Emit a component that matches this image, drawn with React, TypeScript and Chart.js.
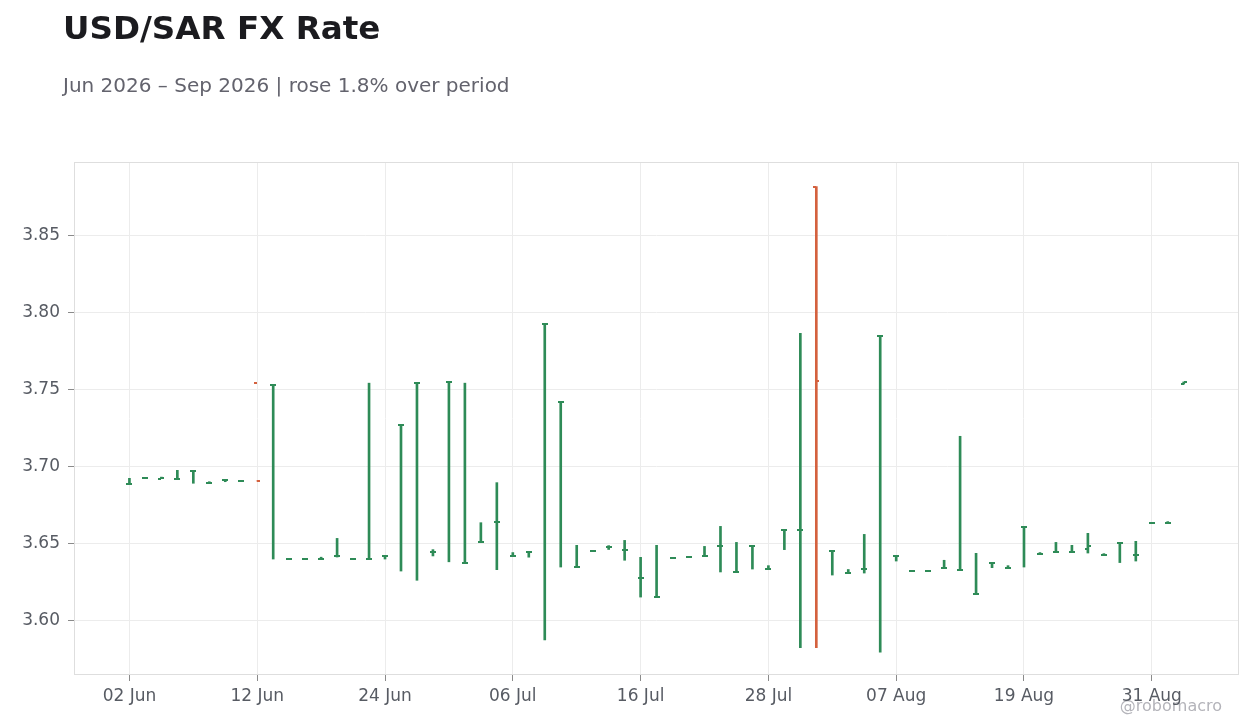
import { useEffect, useRef } from 'react';
import { Chart, registerables } from 'chart.js';

Chart.register(...registerables);

// business days, Jun 2 – Sep 2 2026
const dates = [
  '02 Jun', '03 Jun', '04 Jun', '05 Jun', '08 Jun', '09 Jun', '10 Jun', '11 Jun', '12 Jun',
  '15 Jun', '16 Jun', '17 Jun', '18 Jun', '19 Jun', '22 Jun', '23 Jun', '24 Jun', '25 Jun', '26 Jun',
  '29 Jun', '30 Jun', '01 Jul', '02 Jul', '03 Jul', '06 Jul', '07 Jul', '08 Jul', '09 Jul', '10 Jul',
  '13 Jul', '14 Jul', '15 Jul', '16 Jul', '17 Jul', '20 Jul', '21 Jul', '22 Jul', '23 Jul', '24 Jul',
  '27 Jul', '28 Jul', '29 Jul', '30 Jul', '31 Jul', '03 Aug', '04 Aug', '05 Aug', '06 Aug', '07 Aug',
  '10 Aug', '11 Aug', '12 Aug', '13 Aug', '14 Aug', '17 Aug', '18 Aug', '19 Aug', '20 Aug', '21 Aug',
  '24 Aug', '25 Aug', '26 Aug', '27 Aug', '28 Aug', '31 Aug', '01 Sep', '02 Sep',
];

const opens = [
  3.6883, 3.6924, 3.6920, 3.6920, 3.6970, 3.6890, 3.6910, 3.6905, 3.7540,
  3.7528, 3.6400, 3.6400, 3.6396, 3.6415, 3.6396, 3.6396, 3.6418, 3.7270, 3.7540,
  3.6442, 3.7550, 3.6370, 3.6506, 3.6638, 3.6416, 3.6446, 3.7924, 3.7420, 3.6346,
  3.6450, 3.6476, 3.6456, 3.6275, 3.6150, 3.6405, 3.6411, 3.6416, 3.6480, 3.6314,
  3.6480, 3.6333, 3.6586, 3.6586, 3.8816, 3.6450, 3.6307, 3.6333, 3.7846, 3.6418,
  3.6320, 3.6320, 3.6340, 3.6327, 3.6170, 3.6372, 3.6340, 3.6606, 3.6431, 3.6442,
  3.6442, 3.6463, 3.6424, 3.6502, 3.6424, 3.6632, 3.6632, 3.7534,
];
const highs = [
  3.6922, 3.6924, 3.6930, 3.6974, 3.6970, 3.6900, 3.6910, 3.6905, 3.6905,
  3.7528, 3.6400, 3.6400, 3.6410, 3.6532, 3.6396, 3.7540, 3.6418, 3.7270, 3.7540,
  3.6459, 3.7550, 3.7540, 3.6634, 3.6894, 3.6440, 3.6446, 3.7924, 3.7420, 3.6487,
  3.6450, 3.6485, 3.6519, 3.6409, 3.6487, 3.6405, 3.6411, 3.6480, 3.6610, 3.6506,
  3.6480, 3.6355, 3.6586, 3.7864, 3.8816, 3.6450, 3.6330, 3.6558, 3.7846, 3.6418,
  3.6320, 3.6320, 3.6390, 3.7195, 3.6435, 3.6372, 3.6355, 3.6606, 3.6440, 3.6506,
  3.6487, 3.6565, 3.6433, 3.6502, 3.6513, 3.6632, 3.6641, 3.7548,
];
const lows = [
  3.6883, 3.6924, 3.6920, 3.6914, 3.6890, 3.6890, 3.6900, 3.6905, 3.6905,
  3.6398, 3.6400, 3.6400, 3.6396, 3.6411, 3.6396, 3.6396, 3.6398, 3.6320, 3.6260,
  3.6418, 3.6380, 3.6370, 3.6506, 3.6329, 3.6416, 3.6410, 3.5872, 3.6346, 3.6346,
  3.6450, 3.6460, 3.6390, 3.6151, 3.6150, 3.6405, 3.6411, 3.6416, 3.6314, 3.6314,
  3.6333, 3.6333, 3.6459, 3.5823, 3.5823, 3.6294, 3.6307, 3.6307, 3.5794, 3.6385,
  3.6320, 3.6320, 3.6340, 3.6327, 3.6170, 3.6342, 3.6340, 3.6346, 3.6431, 3.6442,
  3.6442, 3.6437, 3.6424, 3.6375, 3.6385, 3.6632, 3.6632, 3.7534,
];
const closes = [
  3.6885, 3.6924, 3.6922, 3.6920, 3.6970, 3.6890, 3.6910, 3.6905, 3.6905,
  3.7528, 3.6400, 3.6400, 3.6396, 3.6415, 3.6396, 3.6396, 3.6418, 3.7270, 3.7540,
  3.6442, 3.7550, 3.6370, 3.6506, 3.6638, 3.6416, 3.6446, 3.7924, 3.7420, 3.6346,
  3.6450, 3.6476, 3.6456, 3.6275, 3.6150, 3.6405, 3.6411, 3.6416, 3.6480, 3.6314,
  3.6480, 3.6333, 3.6586, 3.6586, 3.7556, 3.6450, 3.6307, 3.6333, 3.7846, 3.6418,
  3.6320, 3.6320, 3.6340, 3.6327, 3.6170, 3.6372, 3.6340, 3.6606, 3.6431, 3.6442,
  3.6442, 3.6483, 3.6424, 3.6502, 3.6424, 3.6632, 3.6632, 3.7548,
];

const xTickIdx = [0, 8, 16, 24, 32, 40, 48, 56, 64];
const yTicks = [3.6, 3.65, 3.7, 3.75, 3.8, 3.85];

const UP = '#2e8b57';
const DOWN = '#d4613e';
const FONT = '"DejaVu Sans", sans-serif';

const colorAt = (i: number) => (closes[i] >= opens[i] ? UP : DOWN);

// open / close ticks, frame and watermark
const ohlcPlugin = {
  id: 'ohlcTicks',
  beforeDraw(chart: any) {
    const { ctx } = chart;
    ctx.save();
    ctx.font = `16px ${FONT}`;
    ctx.fillStyle = '#b4b4ba';
    ctx.textAlign = 'right';
    ctx.textBaseline = 'alphabetic';
    ctx.fillText('@robomacro', 1222, 711);
    ctx.restore();
  },
  beforeDatasetsDraw(chart: any) {
    const { ctx, chartArea: a } = chart;
    ctx.save();
    ctx.strokeStyle = '#dedede';
    ctx.lineWidth = 1;
    ctx.strokeRect(a.left + 0.5, a.top + 0.5, a.right - a.left - 1, a.bottom - a.top - 1);
    ctx.restore();
  },
  afterDatasetsDraw(chart: any) {
    const { ctx } = chart;
    const xs = chart.scales.x;
    const ys = chart.scales.y;
    ctx.save();
    opens.forEach((o, i) => {
      const px = Math.round(xs.getPixelForValue(i));
      ctx.fillStyle = colorAt(i);
      ctx.fillRect(px - 3, Math.round(ys.getPixelForValue(o)) - 1, 3, 2);
      ctx.fillRect(px, Math.round(ys.getPixelForValue(closes[i])) - 1, 3, 2);
    });
    ctx.restore();
  },
};

const App = () => {
  const canvasRef = useRef<HTMLCanvasElement>(null);

  useEffect(() => {
    if (!canvasRef.current) return;
    const chart = new Chart(canvasRef.current, {
      type: 'bar',
      data: {
        datasets: [
          {
            label: 'USD/SAR',
            data: dates.map((_, i) => ({ x: i, y: [lows[i], highs[i]] })) as any,
            backgroundColor: dates.map((_, i) => colorAt(i)),
            borderWidth: 0,
            barThickness: 2,
            grouped: false,
          },
        ],
      },
      options: {
        responsive: false,
        animation: false,
        devicePixelRatio: 1,
        layout: { padding: { left: 0, right: 21, top: 162, bottom: 0 } },
        plugins: {
          legend: { display: false },
          tooltip: { enabled: false },
        },
        scales: {
          x: {
            type: 'linear',
            offset: false,
            min: -3.47,
            max: 69.46,
            afterFit: (s: any) => {
              s.height = 53;
            },
            afterBuildTicks: (s: any) => {
              s.ticks = xTickIdx.map((v) => ({ value: v }));
            },
            grid: { offset: false, color: '#ececec', tickColor: '#8a8a8a', tickLength: 6 },
            border: { display: false },
            ticks: {
              autoSkip: false,
              maxRotation: 0,
              padding: 5,
              color: '#575b63',
              font: { family: FONT, size: 17 },
              callback: (v: any) => dates[v] ?? '',
            },
          },
          y: {
            min: 3.5645,
            max: 3.8976,
            afterFit: (s: any) => {
              s.width = 74;
            },
            afterBuildTicks: (s: any) => {
              s.ticks = yTicks.map((v) => ({ value: v }));
            },
            grid: { color: '#ececec', tickColor: '#8a8a8a', tickLength: 6 },
            border: { display: false },
            ticks: {
              padding: 8,
              color: '#575b63',
              font: { family: FONT, size: 17 },
              callback: (v: any) => Number(v).toFixed(2),
            },
          },
        },
      },
      plugins: [ohlcPlugin],
    });
    return () => chart.destroy();
  }, []);

  return (
    <div style={{ position: 'absolute', left: 0, top: 0, width: 1260, height: 728, background: '#fff' }}>
      <canvas ref={canvasRef} width={1260} height={728} style={{ position: 'absolute', left: 0, top: 0 }} />
      <div
        style={{
          position: 'absolute', left: 63, top: 12, margin: 0,
          fontFamily: FONT, fontWeight: 'bold', fontSize: 32.6, lineHeight: '33px', color: '#1b1b1f',
          whiteSpace: 'nowrap',
        }}
      >
        USD/SAR FX Rate
      </div>
      <div
        style={{
          position: 'absolute', left: 63, top: 75, margin: 0,
          fontFamily: FONT, fontSize: 20, lineHeight: '20px', color: '#63636d',
          whiteSpace: 'nowrap',
        }}
      >
        Jun 2026 – Sep 2026 | rose 1.8% over period
      </div>
    </div>
  );
};

export default App;
